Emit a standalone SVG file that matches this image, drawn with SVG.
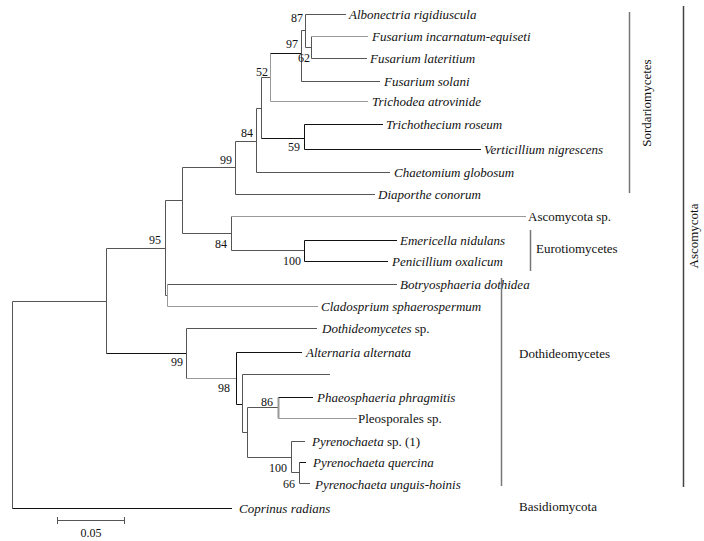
<svg xmlns="http://www.w3.org/2000/svg" width="704" height="541" viewBox="0 0 704 541">
<style>
text{fill:#111}
.sp{font-size:13px;font-style:italic}
.up{font-size:13px;font-style:normal}
.bs{font-size:12px;text-anchor:end}
.br{fill:none;stroke:#555;stroke-width:1}
.bk{fill:none;stroke:#111;stroke-width:1}
.lg{fill:none;stroke:#999;stroke-width:1}
.bar{stroke:#777;stroke-width:1.5}
</style>
<rect width="704" height="541" fill="#fff"/>
<g id="connectors">
<path class="br" d="M12.5 301.5V508.5M12.5 301.5H106.5M106.5 248.5V353.5M106.5 248.5H165.5"/>
<path class="bk" d="M12.5 508.5H232M106.5 353.5H186.5"/>
<path class="br" d="M165.5 200.5V295.5M165.5 200.5H182.5M165.5 295.5H167.5M167.5 284.5H397"/>
<path class="lg" d="M167.5 284.5V306.5M167.5 306.5H318"/>
<path class="br" d="M182.5 167.5V233.5M182.5 167.5H235.5M182.5 233.5H231.5"/>
<path class="br" d="M235.5 141.5V194.5M235.5 141.5H256.5M235.5 194.5H375"/>
<path class="br" d="M256.5 108.5V172.5M256.5 108.5H261.5M256.5 172.5H390"/>
<path class="br" d="M261.5 77.5V138.5M261.5 77.5H270.5"/>
<path class="bk" d="M261.5 138.5H304.5M304.5 124.5V149.5M304.5 124.5H383M304.5 149.5H481"/>
<path class="lg" d="M270.5 53.5V101.5M270.5 101.5H368"/>
<path class="bk" d="M270.5 53.5H301.5"/>
<path class="br" d="M301.5 30.5V81.5M301.5 30.5H305.5M301.5 81.5H380"/>
<path class="br" d="M305.5 14.5V47.5M305.5 14.5H346M305.5 47.5H311.5M311.5 36.5V58.5M311.5 58.5H367"/>
<path class="lg" d="M311.5 36.5H368"/>
<path class="br" d="M231.5 216.5V250.5M231.5 250.5H304.5"/>
<path class="lg" d="M231.5 216.5H526"/>
<path class="bk" d="M304.5 240.5V261.5M304.5 240.5H397M304.5 261.5H388"/>
<path class="br" d="M186.5 328.5V378.5M186.5 328.5H317"/>
<path class="lg" d="M186.5 378.5H236.5"/>
<path class="bk" d="M236.5 352.5V404.5M236.5 352.5H302M236.5 404.5H242.5"/>
<path class="br" d="M242.5 374.5V432.5M242.5 374.5H330M242.5 432.5H247.5"/>
<path class="br" d="M247.5 407.5V457.5M247.5 407.5H278.5M247.5 457.5H291.5"/>
<path class="lg" d="M278.5 397.5V418.5" style="stroke-width:2"/>
<path class="bk" d="M278.5 397.5H313"/>
<path class="lg" d="M278.5 418.5H357"/>
<path class="br" d="M291.5 441.5V472.5M291.5 441.5H305M291.5 472.5H299.5M299.5 462.5V483.5M299.5 483.5H310"/>
<path class="bk" d="M299.5 462.5H306"/>
</g>
<g font-family="Liberation Serif, Times New Roman, serif">
<g id="leaves">
<g id="n-albonectria"><text class="sp" x="349" y="18.5">Albonectria rigidiuscula</text></g>
<g id="n-fus-inc"><text class="sp" x="372" y="40.5">Fusarium incarnatum-equiseti</text></g>
<g id="n-fus-lat"><text class="sp" x="370" y="62.5">Fusarium lateritium</text></g>
<g id="n-fus-sol"><text class="sp" x="384" y="85.5">Fusarium solani</text></g>
<g id="n-trichodea"><text class="sp" x="372" y="105.5">Trichodea atrovinide</text></g>
<g id="n-trichothecium"><text class="sp" x="386" y="128.5">Trichothecium roseum</text></g>
<g id="n-verticillium"><text class="sp" x="484" y="153.5">Verticillium nigrescens</text></g>
<g id="n-chaetomium"><text class="sp" x="394" y="176.5">Chaetomium globosum</text></g>
<g id="n-diaporthe"><text class="sp" x="378" y="198.5">Diaporthe conorum</text></g>
<g id="n-ascomycota-sp"><text class="up" x="528" y="220.5">Ascomycota sp.</text></g>
<g id="n-emericella"><text class="sp" x="400" y="244.5">Emericella nidulans</text></g>
<g id="n-penicillium"><text class="sp" x="392" y="265.5">Penicillium oxalicum</text></g>
<g id="n-botryosphaeria"><text class="sp" x="400" y="288.5">Botryosphaeria dothidea</text></g>
<g id="n-cladosprium"><text class="sp" x="321" y="310.5">Cladosprium sphaerospermum</text></g>
<g id="n-dothideomycetes-sp"><text class="sp" x="322" y="332.5">Dothideomycetes<tspan font-style="normal"> sp.</tspan></text></g>
<g id="n-alternaria"><text class="sp" x="306" y="356.5">Alternaria alternata</text></g>
<g id="n-phaeosphaeria"><text class="sp" x="317" y="401.5">Phaeosphaeria phragmitis</text></g>
<g id="n-pleosporales"><text class="up" x="358" y="422.5">Pleosporales sp.</text></g>
<g id="n-pyrenochaeta1"><text class="sp" x="312" y="445.5">Pyrenochaeta<tspan font-style="normal"> sp. (1)</tspan></text></g>
<g id="n-pyr-quercina"><text class="sp" x="313" y="466.5">Pyrenochaeta quercina</text></g>
<g id="n-pyr-unguis"><text class="sp" x="315" y="488.5">Pyrenochaeta unguis-hoinis</text></g>
<g id="n-coprinus"><text class="sp" x="239" y="512.5">Coprinus radians</text></g>
</g>
<g id="bootstrap">
<text class="bs" x="303" y="22">87</text>
<text class="bs" x="298" y="48">97</text>
<text class="bs" x="310" y="62">62</text>
<text class="bs" x="268" y="76">52</text>
<text class="bs" x="253" y="137">84</text>
<text class="bs" x="300" y="151">59</text>
<text class="bs" x="232" y="164">99</text>
<text class="bs" x="161" y="244">95</text>
<text class="bs" x="227" y="248">84</text>
<text class="bs" x="301" y="265">100</text>
<text class="bs" x="183" y="366">99</text>
<text class="bs" x="230" y="392">98</text>
<text class="bs" x="273" y="406">86</text>
<text class="bs" x="287" y="472">100</text>
<text class="bs" x="295" y="488">66</text>
</g>
<g id="groups">
<g id="g-sordariomycetes"><line class="bar" x1="629.5" y1="12" x2="629.5" y2="193"/><text class="up" transform="translate(651,103) rotate(-90)" text-anchor="middle">Sordariomycetes</text></g>
<g id="g-eurotiomycetes"><line class="bar" x1="530.5" y1="230" x2="530.5" y2="271"/><text class="up" x="536" y="253">Eurotiomycetes</text></g>
<g id="g-dothideomycetes"><line class="bar" x1="501.5" y1="278" x2="501.5" y2="486"/><text class="up" x="519" y="358">Dothideomycetes</text></g>
<g id="g-ascomycota"><line class="bar" x1="683.5" y1="6" x2="683.5" y2="487" style="stroke:#444"/><text class="up" transform="translate(698,236) rotate(-90)" text-anchor="middle">Ascomycota</text></g>
<g id="g-basidiomycota"><text class="up" x="519" y="511">Basidiomycota</text></g>
</g>
<g id="scale">
<path class="br" d="M57.5 520.5H124.5M57.5 517V524M124.5 517V524"/>
<text x="91" y="537" font-size="12" text-anchor="middle">0.05</text>
</g>
</g>
</svg>
